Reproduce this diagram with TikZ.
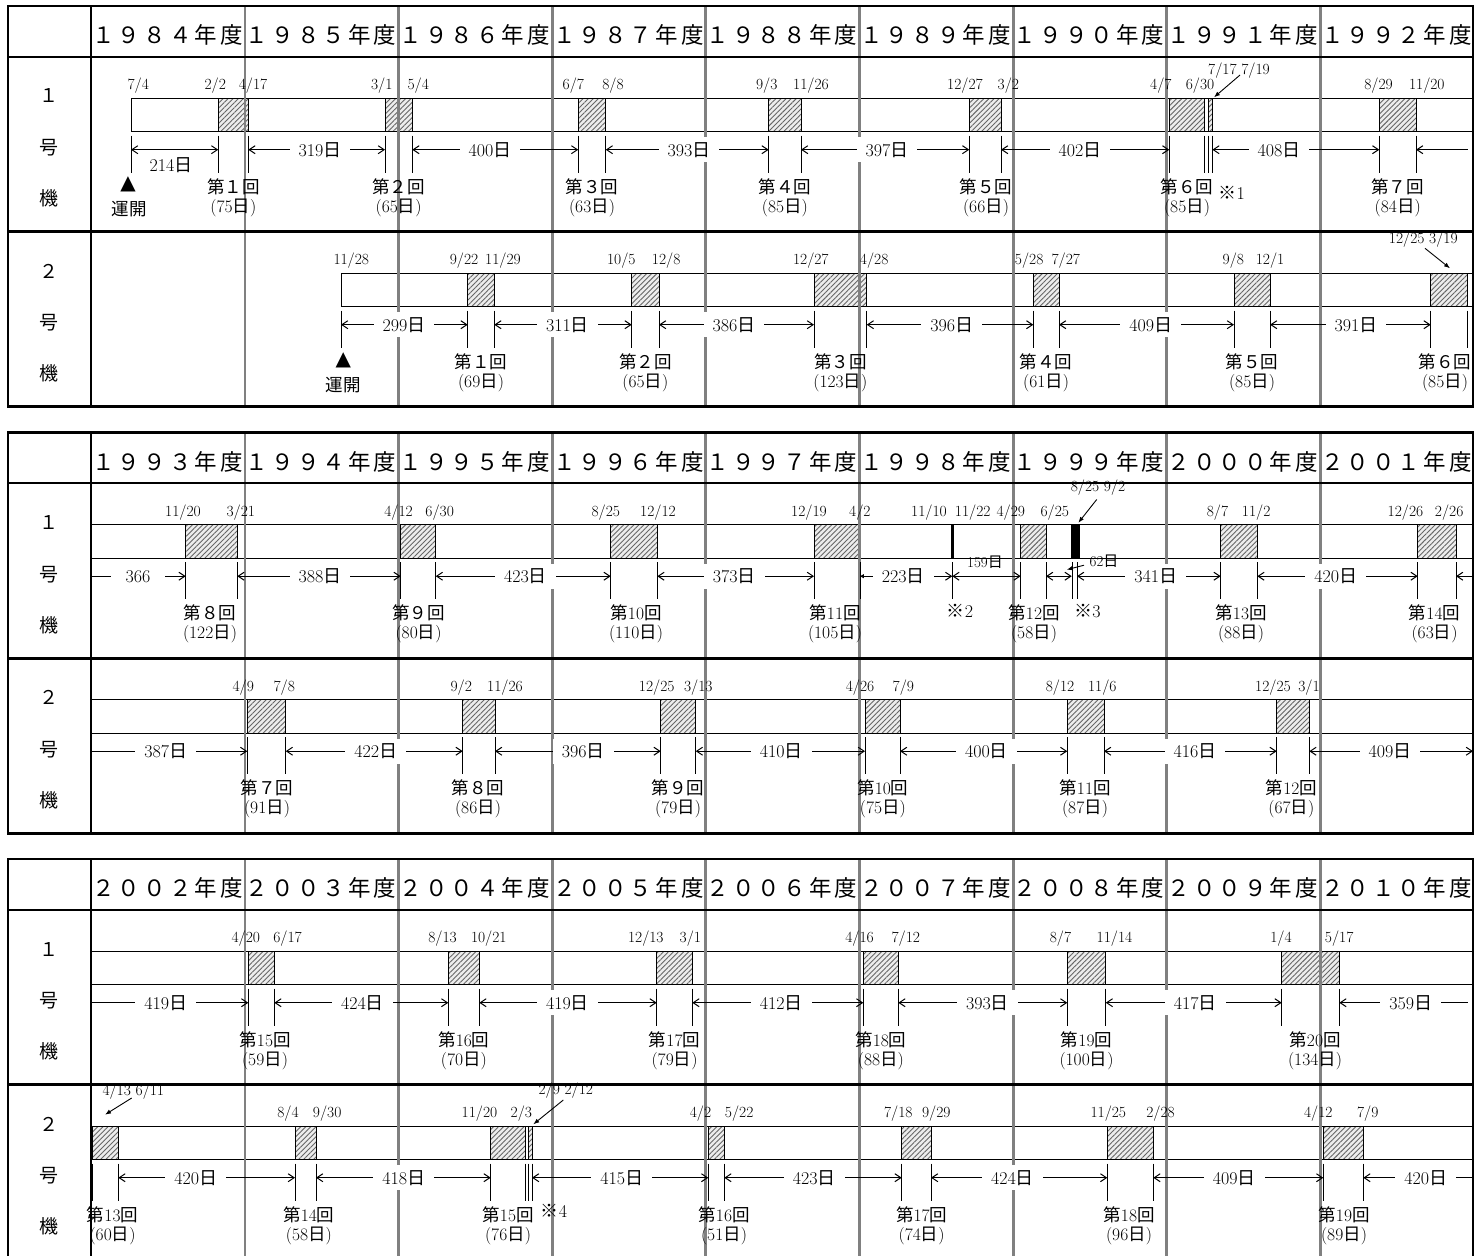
\documentclass[tikz,border=0pt]{standalone}
\usepackage{fontspec}
\newfontfamily\cjk{Noto Sans CJK JP}
\newfontfamily\djv{DejaVu Sans}
\usetikzlibrary{arrows.meta,patterns.meta}
\pgfdeclarelayer{bars}
\pgfdeclarelayer{grid}
\pgfsetlayers{bars,grid,main}
\newcommand\fsz[1]{\fontsize{#1}{#1}\selectfont}
\newcommand\Ni{{\cjk 日}}
\newcommand\fw[1]{{\cjk #1}}
\newcommand\kai[2]{{\cjk 第}#1{\cjk 回}\\(#2\Ni)}
\newcommand\ycell[1]{\hbox to 25.6bp{\hss#1\hss}}
\newcommand\yr[4]{\hbox{\ycell{#1}\ycell{#2}\ycell{#3}\ycell{#4}\ycell{年}\ycell{度}}}
\newcommand\kome{{\cjk ※}}
\tikzset{
  barrect/.style={draw=black,fill=white,line width=1bp},
  hatchbox/.style={draw=black,line width=1bp,preaction={fill=black!7},
     pattern={Lines[angle=45,distance=3.6pt,line width=0.9pt]},pattern color=black!60},
  blkbox/.style={draw=black,fill=black,line width=0.6bp},
  tickline/.style={line width=1bp},
  dimline/.style={line width=1bp},
  gridline/.style={draw=black!50,line width=2.6bp},
  dimlab/.style={fill=white,inner xsep=9bp,inner ysep=5bp,font=\fsz{18bp}},
  widelab/.style={fill=white,inner xsep=15bp,inner ysep=5bp,font=\fsz{18bp}},
  plainlab/.style={inner sep=0pt,font=\fsz{18bp}},
  smalllab/.style={inner sep=0pt,font=\fsz{15bp}},
  datelab/.style={inner sep=0pt,font=\fsz{15.5bp}},
  kailab/.style={inner sep=0pt,align=center,font=\fontsize{17.5bp}{19bp}\selectfont},
  notelab/.style={inner sep=0pt,font=\fsz{18bp}},
  collab/.style={inner sep=0pt,font=\fsz{19bp}\cjk},
  yrlab/.style={inner sep=0pt,font=\fsz{22.5bp}\cjk},
  tri/.style={inner sep=0pt,font=\fsz{20bp}\djv},
  unkai/.style={inner sep=0pt,font=\fsz{17.5bp}\cjk},
  leader/.style={line width=0.9bp,-{Latex[length=6pt,width=4.5pt]}},
}
\newcommand\bx[2]{\begin{pgfonlayer}{bars}\draw[hatchbox] (#1,41.5) rectangle (#2,75);\end{pgfonlayer}%
  \draw[tickline] (#1,79) -- (#1,116) (#2,79) -- (#2,116);}
\newcommand\nbx[2]{\begin{pgfonlayer}{bars}\draw[hatchbox] (#1,41.5) rectangle (#2,75);\end{pgfonlayer}}
\newcommand\blk[2]{\begin{pgfonlayer}{bars}\draw[blkbox] (#1,41.5) rectangle (#2,75);\end{pgfonlayer}}
\newcommand\tk[1]{\draw[tickline] (#1,79) -- (#1,116);}
\newcommand\barfrom[1]{\begin{pgfonlayer}{bars}\draw[barrect] (#1,41.5) rectangle (1473,75);\end{pgfonlayer}}
\newcommand\dm[4]{\draw[dimline,<->] (#1,93) -- (#2,93); \node[dimlab] at (#3,93) {#4};}
\newcommand\dt[2]{\node[datelab] at (#1,29) {#2};}
\newcommand\ks[3]{\node[kailab] at (#1,141) {\kai{#2}{#3}};}
\newcommand\rowlab[1]{\node[collab] at (49,39.3) {#1}; \node[collab] at (49,91) {号}; \node[collab] at (49,141.6) {機};}
\newcommand\panelframe{%
  \begin{pgfonlayer}{grid}
  \foreach \gx in {245,398.3,552.7,705.3,859.3,1013.3,1166.7,1320.7}
    \draw[gridline] (\gx,0) -- (\gx,400.7);
  \end{pgfonlayer}
  \draw[line width=2bp] (90.7,0) -- (90.7,400.7);
  \draw[line width=2bp] (8,50.7) -- (1473,50.7);
  \draw[line width=2.6bp] (8,225.7) -- (1473,225.7);
  \draw[line width=2.6bp] (8,0) rectangle (1473,400.7);}

\begin{document}
\begin{tikzpicture}[x=1bp,y=-1bp,>={Straight Barb[length=6pt,width=8pt]}]
\useasboundingbox (0,0) rectangle (1476,1255);
\clip (0,0) rectangle (1476,1255);

%================ PANEL 1 ================
\begin{scope}[shift={(0,6)}]
\foreach \i/\ya/\yb/\yc/\yd in {0/１/９/８/４,1/１/９/８/５,2/１/９/８/６,3/１/９/８/７,4/１/９/８/８,5/１/９/８/９,6/１/９/９/０,7/１/９/９/１,8/１/９/９/２}
  \node[yrlab] at ({90.7+153.6*\i+76.8},29) {\yr\ya\yb\yc\yd};
% --- row 1
\begin{scope}[shift={(0,50.7)}]
\rowlab{１}
\barfrom{131}
\tk{131}
\bx{218.3}{248.3} \bx{385}{412.3} \bx{578.3}{605.7} \bx{768.7}{801} \bx{969.3}{1001} \bx{1169.3}{1204.3}
\nbx{1208.3}{1212.3}\tk{1208.3}\tk{1212.3}
\bx{1379.3}{1416}
\draw[dimline,<->] (131,93) -- (218.3,93);
\node[plainlab] at (171,108.3) {214\Ni};
\dm{248.3}{385}{320}{319\Ni}
\dm{412.3}{578.3}{490}{400\Ni}
\dm{605.7}{768.7}{689}{393\Ni}
\dm{801}{969.3}{887}{397\Ni}
\dm{1001}{1169.3}{1080}{402\Ni}
\dm{1212.3}{1379.3}{1279}{408\Ni}
\draw[dimline,<-] (1416,93) -- (1468,93);
\dt{138.3}{7/4} \dt{215.3}{2/2} \dt{253}{4/17} \dt{381.7}{3/1} \dt{418.3}{5/4} \dt{573.3}{6/7} \dt{613}{8/8}
\dt{766.7}{9/3} \dt{811}{11/26} \dt{965}{12/27} \dt{1008.3}{3/2} \dt{1160.8}{4/7} \dt{1200}{6/30}
\dt{1378.5}{8/29} \dt{1426.8}{11/20}
\node[datelab] at (1239,14) {7/17 7/19};
\draw[leader] (1240,18.3) -- (1214,40.6);
\ks{233.3}{\fw{１}}{75} \ks{398.7}{\fw{２}}{65} \ks{592}{\fw{３}}{63} \ks{784.9}{\fw{４}}{85}
\ks{986}{\fw{５}}{66} \ks{1187}{\fw{６}}{85} \ks{1397.7}{\fw{７}}{84}
\node[notelab] at (1231.7,136.6) {\kome 1};
\node[tri] at (128,127.3) {▲};
\node[unkai] at (129,152.3) {運開};
\end{scope}
% --- row 2
\begin{scope}[shift={(0,225.7)}]
\rowlab{２}
\barfrom{341}
\tk{341}
\bx{467.7}{494.3} \bx{631.7}{659} \bx{814}{866.7} \bx{1033.3}{1059} \bx{1234}{1270} \bx{1430.7}{1467.7}
\dm{341}{467.7}{404}{299\Ni}
\dm{494.3}{631.7}{567.5}{311\Ni}
\dm{659}{814}{734}{386\Ni}
\dm{866.7}{1033.3}{951.7}{396\Ni}
\dm{1059}{1234}{1150.8}{409\Ni}
\dm{1270}{1430.7}{1356}{391\Ni}
\dt{351.3}{11/28} \dt{464}{9/22} \dt{503}{11/29} \dt{621.3}{10/5} \dt{666.2}{12/8} \dt{810.8}{12/27}
\dt{874.2}{4/28} \dt{1029.2}{5/28} \dt{1065.8}{7/27} \dt{1233.3}{9/8} \dt{1270}{12/1}
\node[datelab] at (1423.3,7.6) {12/25 3/19};
\draw[leader] (1425,16.6) -- (1450,36.6);
\ks{481}{\fw{１}}{69} \ks{645.3}{\fw{２}}{65} \ks{840.3}{\fw{３}}{123} \ks{1046.2}{\fw{４}}{61}
\ks{1252}{\fw{５}}{85} \ks{1445}{\fw{６}}{85}
\node[tri] at (343.3,128.3) {▲};
\node[unkai] at (343.3,153.3) {運開};
\end{scope}
\panelframe
\end{scope}

%================ PANEL 2 ================
\begin{scope}[shift={(0,432.5)}]
\foreach \i/\ya/\yb/\yc/\yd in {0/１/９/９/３,1/１/９/９/４,2/１/９/９/５,3/１/９/９/６,4/１/９/９/７,5/１/９/９/８,6/１/９/９/９,7/２/０/０/０,8/２/０/０/１}
  \node[yrlab] at ({90.7+153.6*\i+76.8},29) {\yr\ya\yb\yc\yd};
% --- row 1
\begin{scope}[shift={(0,50.7)}]
\rowlab{１}
\barfrom{90.7}
\bx{185.7}{237.3} \bx{400.7}{435.7} \bx{610.7}{657.3} \bx{814}{860}
\blk{951}{953.6} \tk{952.3}
\bx{1020.7}{1046}
\blk{1071.7}{1079} \tk{1072.2}\tk{1077}
\bx{1220.7}{1257.3} \bx{1417.7}{1456}
\draw[dimline,->] (90.7,93) -- (185.7,93); \node[widelab] at (138,93) {366};
\dm{237.3}{400.7}{320}{388\Ni}
\dm{435.7}{610.7}{525.5}{423\Ni}
\dm{657.3}{814}{734.2}{373\Ni}
\draw[dimline,{Triangle[length=4pt,width=4pt]}->] (860,93) -- (952.3,93);
\node[dimlab] at (903.3,93) {223\Ni};
\draw[dimline,<->] (952.3,93) -- (1020.7,93); \node[smalllab] at (985,79) {159\Ni};
\draw[dimline,<->] (1046,93) -- (1071.7,93); \node[smalllab] at (1104,78) {62\Ni};
\draw[leader] (1084,82) -- (1066.7,86.5);
\draw[dimline,<->] (1077,93) -- (1220.7,93); \node[dimlab] at (1155.8,93) {341\Ni};
\dm{1257.3}{1417.7}{1335.8}{420\Ni}
\draw[dimline,<-] (1456,93) -- (1473,93);
\dt{183}{11/20} \dt{240.8}{3/21} \dt{398.5}{4/12} \dt{439.7}{6/30} \dt{605.8}{8/25} \dt{658}{12/12}
\dt{809}{12/19} \dt{859.8}{4/2} \dt{929}{11/10} \dt{972.7}{11/22} \dt{1010.8}{4/29} \dt{1054.8}{6/25}
\dt{1217.5}{8/7} \dt{1256.2}{11/2} \dt{1405.5}{12/26} \dt{1449.2}{2/26}
\node[datelab] at (1098,4.6) {8/25 9/2};
\draw[leader] (1096.7,16.3) -- (1078.3,39.6);
\ks{210}{\fw{８}}{122} \ks{418.5}{\fw{９}}{80} \ks{636}{10}{110} \ks{835}{11}{105}
\ks{1034}{12}{58} \ks{1241}{13}{88} \ks{1434.5}{14}{63}
\node[notelab] at (960,128) {\kome 2};
\node[notelab] at (1087.5,128) {\kome 3};
\end{scope}
% --- row 2
\begin{scope}[shift={(0,225.7)}]
\rowlab{２}
\barfrom{90.7}
\bx{247.3}{285.7} \bx{462.7}{495} \bx{660.7}{695.7} \bx{865}{900} \bx{1067.3}{1104} \bx{1276.7}{1309.3}
\draw[dimline,->] (90.7,93) -- (247.3,93); \node[dimlab] at (165.8,93) {387\Ni};
\dm{285.7}{462.7}{375.8}{422\Ni}
\dm{495}{660.7}{583.3}{396\Ni}
\dm{695.7}{865}{781.3}{410\Ni}
\dm{900}{1067.3}{986.5}{400\Ni}
\dm{1104}{1276.7}{1195}{416\Ni}
\dm{1309.3}{1473}{1390}{409\Ni}
\dt{243.3}{4/9} \dt{284.3}{7/8} \dt{461.3}{9/2} \dt{505}{11/26} \dt{656.7}{12/25} \dt{698.3}{3/13}
\dt{860}{4/26} \dt{903.3}{7/9} \dt{1060}{8/12} \dt{1102.3}{11/6} \dt{1273}{12/25} \dt{1309}{3/1}
\ks{267}{\fw{７}}{91} \ks{478}{\fw{８}}{86} \ks{678}{\fw{９}}{79} \ks{882.8}{10}{75}
\ks{1085}{11}{87} \ks{1291.3}{12}{67}
\end{scope}
\panelframe
\end{scope}

%================ PANEL 3 ================
\begin{scope}[shift={(0,859)}]
\foreach \i/\ya/\yb/\yc/\yd in {0/２/０/０/２,1/２/０/０/３,2/２/０/０/４,3/２/０/０/５,4/２/０/０/６,5/２/０/０/７,6/２/０/０/８,7/２/０/０/９,8/２/０/１/０}
  \node[yrlab] at ({90.7+153.6*\i+76.8},29) {\yr\ya\yb\yc\yd};
% --- row 1
\begin{scope}[shift={(0,50.7)}]
\rowlab{１}
\barfrom{90.7}
\bx{248.3}{274.3} \bx{448.3}{479.3} \bx{656.7}{692.3} \bx{863.3}{898.3} \bx{1067.3}{1105.7} \bx{1281.7}{1339.3}
\draw[dimline,->] (90.7,93) -- (248.3,93); \node[dimlab] at (165.8,93) {419\Ni};
\dm{274.3}{448.3}{362.5}{424\Ni}
\dm{479.3}{656.7}{567.5}{419\Ni}
\dm{692.3}{863.3}{781.3}{412\Ni}
\dm{898.3}{1067.3}{987.5}{393\Ni}
\dm{1105.7}{1281.7}{1195.3}{417\Ni}
\draw[dimline,<-] (1339.3,93) -- (1468,93); \node[dimlab] at (1410.8,93) {359\Ni};
\dt{245.8}{4/20} \dt{287.5}{6/17} \dt{442.5}{8/13} \dt{488.8}{10/21} \dt{645.8}{12/13} \dt{690.3}{3/1}
\dt{859.5}{4/16} \dt{905.8}{7/12} \dt{1060.5}{8/7} \dt{1114.5}{11/14} \dt{1281}{1/4} \dt{1339.2}{5/17}
\ks{265}{15}{59} \ks{463.8}{16}{70} \ks{674.5}{17}{79} \ks{880.8}{18}{88} \ks{1086.5}{19}{100} \ks{1315}{20}{134}
\end{scope}
% --- row 2
\begin{scope}[shift={(0,225.7)}]
\rowlab{２}
\barfrom{90.7}
\bx{92.3}{118.3} \bx{295}{316} \bx{490.7}{525}
\nbx{528.3}{532}\tk{528.3}\tk{532}
\bx{708.3}{724.3} \bx{901.7}{931} \bx{1107.3}{1153.3} \bx{1323.3}{1363.3}
\dm{118.3}{295}{195.8}{420\Ni}
\dm{316}{490.7}{403.8}{418\Ni}
\dm{532}{708.3}{621.7}{415\Ni}
\dm{724.3}{901.7}{814.2}{423\Ni}
\dm{931}{1107.3}{1012.5}{424\Ni}
\dm{1153.3}{1323.3}{1234.2}{409\Ni}
\draw[dimline,<-] (1363.3,93) -- (1473,93); \node[dimlab] at (1425.8,93) {420\Ni};
\dt{288}{8/4} \dt{327.2}{9/30} \dt{479.5}{11/20} \dt{521.3}{2/3} \dt{700.5}{4/2} \dt{739.2}{5/22}
\dt{898.3}{7/18} \dt{936.3}{9/29} \dt{1108.3}{11/25} \dt{1160.5}{2/28} \dt{1318.3}{4/12} \dt{1367.7}{7/9}
\node[datelab] at (133.3,7.3) {4/13 6/11};
\draw[leader] (131.7,13.3) -- (105,30);
\node[datelab] at (565.8,5.5) {2/9 2/12};
\draw[leader] (563.3,15.3) -- (533.3,39.6);
\ks{112.5}{13}{60} \ks{308.8}{14}{58} \ks{508}{15}{76} \ks{724}{16}{51} \ks{921.7}{17}{74}
\ks{1129}{18}{96} \ks{1344}{19}{89}
\node[notelab] at (554,126.6) {\kome 4};
\end{scope}
\panelframe
\end{scope}
\end{tikzpicture}
\end{document}
